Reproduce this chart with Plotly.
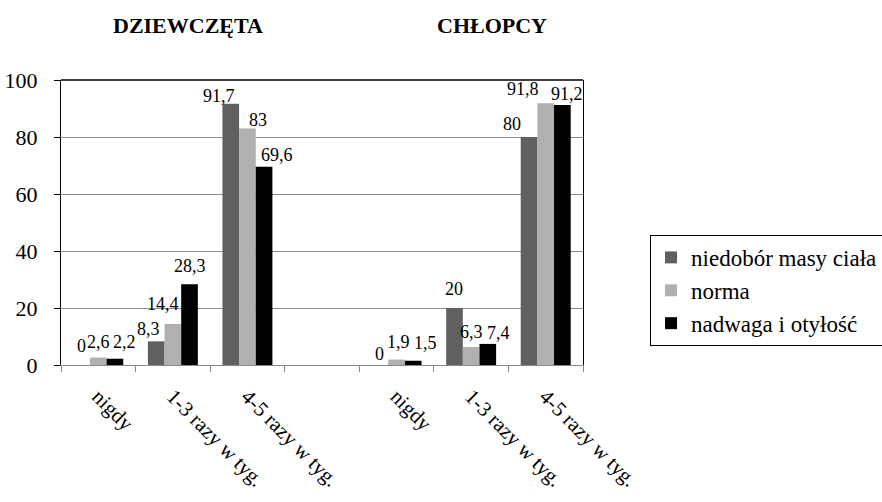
import plotly.graph_objects as go

# Frequency categories (the empty slot separates girls from boys)
categories = ["nigdy", "1-3 razy w tyg.", "4-5 razy w tyg.", "",
              "nigdy", "1-3 razy w tyg.", "4-5 razy w tyg."]

# Percentages per weight group
niedobor = [0, 8.3, 91.7, None, 0, 20, 80]
norma = [2.6, 14.4, 83, None, 1.9, 6.3, 91.8]
nadwaga = [2.2, 28.3, 69.6, None, 1.5, 7.4, 91.2]

series_names = ["niedobór masy ciała", "norma", "nadwaga i otyłość"]
series_values = [niedobor, norma, nadwaga]
series_colors = ["#606060", "#b0b0b0", "#000000"]

group_titles = ["DZIEWCZĘTA", "CHŁOPCY"]

y_ticks = [0, 20, 40, 60, 80, 100]

# Value-label nudges (px): horizontal shift and lift of the baseline above the bar,
# so neighbouring labels do not collide
label_dx = [
    [0, -8, -12, 0, 0, 0, -17],
    [0, -10, 11, 0, 2, 0, -23],
    [10, 0, 13, 0, 12, 11, 5],
]
label_lift = [
    [13, 6, 2, 0, 5, 13, 7],
    [10, 14, 2, 0, 12, 9, 8],
    [11, 12, 6, 0, 12, 5, 5],
]

FONT = "Liberation Serif"
BARGAP = 0.33

positions = list(range(len(categories)))
n_series = len(series_values)
bar_w = (1 - BARGAP) / n_series


def fmt(v):
    s = f"{v:g}"
    return s.replace(".", ",")


fig = go.Figure()
for name, vals, color in zip(series_names, series_values, series_colors):
    fig.add_trace(go.Bar(
        x=positions,
        y=vals,
        name=name,
        legendgroup=name,
        marker=dict(color=color, line=dict(width=0)),
        hoverinfo="skip",
    ))

# Value labels above the bars
for si, vals in enumerate(series_values):
    offset = (si - (n_series - 1) / 2) * bar_w
    for ci, v in enumerate(vals):
        if v is None:
            continue
        fig.add_annotation(
            x=positions[ci] + offset, y=v, xref="x", yref="y",
            text=fmt(v), showarrow=False,
            xanchor="center", yanchor="bottom",
            xshift=label_dx[si][ci], yshift=label_lift[si][ci] - 5,
            font=dict(family=FONT, size=18, color="#000000"),
            borderpad=0,
        )

boundaries = [p - 0.5 for p in positions] + [positions[-1] + 0.5]

fig.update_layout(
    width=882,
    height=502,
    margin=dict(l=61, r=299, t=80, b=137, autoexpand=False),
    paper_bgcolor="white",
    plot_bgcolor="white",
    barmode="group",
    bargap=BARGAP,
    bargroupgap=0,
    font=dict(family=FONT, size=20, color="#000000"),
    showlegend=True,
    legend=dict(
        xref="container", yref="container",
        x=0.737, y=0.532, xanchor="left", yanchor="top",
        bordercolor="#000000", borderwidth=1,
        font=dict(family=FONT, size=23, color="#000000"),
        tracegroupgap=13,
        traceorder="normal",
        bgcolor="white",
    ),
    xaxis=dict(
        range=[-0.5, len(categories) - 0.5],
        tickmode="array",
        tickvals=positions,
        ticktext=categories,
        tickangle=45,
        ticks="",
        showgrid=False,
        zeroline=False,
        showline=True,
        linecolor="#888888",
        linewidth=1,
        tickfont=dict(family=FONT, size=21, color="#000000"),
        ticklabelstandoff=10,
        automargin=False,
        minor=dict(tickvals=boundaries, ticks="outside", ticklen=6,
                   tickcolor="#888888", showgrid=False),
        fixedrange=True,
    ),
    yaxis=dict(
        range=[0, 100],
        tickmode="array",
        tickvals=y_ticks,
        ticks="outside",
        ticklen=6,
        tickcolor="#000000",
        showgrid=True,
        gridcolor="#8c8c8c",
        gridwidth=1,
        zeroline=False,
        showline=True,
        linecolor="#000000",
        linewidth=1,
        mirror=True,
        tickfont=dict(family=FONT, size=22, color="#000000"),
        ticklabelstandoff=12,
        automargin=False,
        fixedrange=True,
    ),
    shapes=[
        dict(type="line", xref="paper", yref="paper", x0=0, x1=1, y0=1, y1=1,
             line=dict(color="#000000", width=1.5)),
    ],
)

# Group titles above the plot
for title, xc in zip(group_titles, [0.243, 0.826]):
    fig.add_annotation(
        text=f"<b>{title}</b>", xref="paper", yref="paper",
        x=xc, y=1.19, xanchor="center", yanchor="middle",
        showarrow=False,
        font=dict(family=FONT, size=22, color="#000000"),
    )

fig.write_html("out.html")
